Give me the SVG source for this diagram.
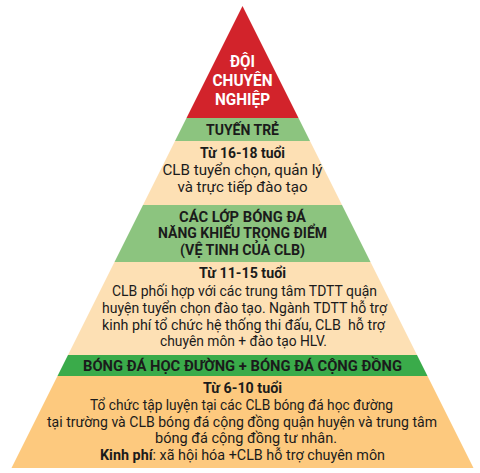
<svg xmlns="http://www.w3.org/2000/svg" width="480" height="473" viewBox="0 0 480 473">
<style>
text{font-family:Roboto,"Liberation Sans","DejaVu Sans",sans-serif;text-anchor:middle;fill:#1b1b1b}
.hd{font-weight:700;font-size:16px;fill:#ffffff}
.tt{font-weight:700;font-size:14px}
.ag{font-weight:700;font-size:14.5px}
.bd{font-size:14px}
.red{fill:#d2232b}
.lg{fill:#8cc47f}
.pc{fill:#fde0b4}
.dg{fill:#3aab4a}
.or{fill:#fdc97e}
</style>
<rect width="480" height="473" fill="#ffffff"/>
<g id="tier-doi-chuyen-nghiep">
<polygon class="red" points="242.5,6 298.5,118 186.5,118"/>
<text class="hd" x="242.5" y="67" textLength="25" lengthAdjust="spacingAndGlyphs">ĐỘI</text>
<text class="hd" x="242.5" y="86" textLength="60" lengthAdjust="spacingAndGlyphs">CHUYÊN</text>
<text class="hd" x="242.5" y="105" textLength="55" lengthAdjust="spacingAndGlyphs">NGHIỆP</text>
</g>
<g id="tier-tuyen-tre">
<polygon class="lg" points="186.5,118 298.5,118 310,141 175,141"/>
<text class="tt" x="242.5" y="135" textLength="73" lengthAdjust="spacingAndGlyphs">TUYẾN TRẺ</text>
</g>
<g id="tier-16-18">
<polygon class="pc" points="175,141 310,141 342,205 143,205"/>
<text class="ag" x="242.5" y="158" textLength="85" lengthAdjust="spacingAndGlyphs">Từ 16-18 tuổi</text>
<text class="bd" x="242.5" y="175" textLength="160" lengthAdjust="spacingAndGlyphs">CLB tuyển chọn, quản lý</text>
<text class="bd" x="242.5" y="192" textLength="130" lengthAdjust="spacingAndGlyphs">và trực tiếp đào tạo</text>
</g>
<g id="tier-lop-nang-khieu">
<polygon class="lg" points="143,205 342,205 370.5,262 114.5,262"/>
<text class="tt" x="242.5" y="222" textLength="127" lengthAdjust="spacingAndGlyphs">CÁC LỚP BÓNG ĐÁ</text>
<text class="tt" x="242.5" y="238" textLength="169" lengthAdjust="spacingAndGlyphs">NĂNG KHIẾU TRỌNG ĐIỂM</text>
<text class="tt" x="242.5" y="255" textLength="125" lengthAdjust="spacingAndGlyphs">(VỆ TINH CỦA CLB)</text>
</g>
<g id="tier-11-15">
<polygon class="pc" points="114.5,262 370.5,262 417,355 68,355"/>
<text class="ag" x="242.5" y="278" textLength="87" lengthAdjust="spacingAndGlyphs">Từ 11-15 tuổi</text>
<text class="bd" x="244.5" y="296" textLength="265" lengthAdjust="spacingAndGlyphs">CLB phối hợp với các trung tâm TDTT quận</text>
<text class="bd" x="244.5" y="313" textLength="285" lengthAdjust="spacingAndGlyphs">huyện tuyển chọn đào tạo. Ngành TDTT hỗ trợ</text>
<text class="bd" x="243.5" y="330" textLength="283" lengthAdjust="spacingAndGlyphs" xml:space="preserve">kinh phí tổ chức hệ thống thi đấu, CLB  hỗ trợ</text>
<text class="bd" x="243.5" y="346" textLength="167" lengthAdjust="spacingAndGlyphs">chuyên môn + đào tạo HLV.</text>
</g>
<g id="tier-hoc-duong-cong-dong">
<polygon class="dg" points="68,355 417,355 427.5,376 57.5,376"/>
<text class="tt" x="242.5" y="371" textLength="319" lengthAdjust="spacingAndGlyphs">BÓNG ĐÁ HỌC ĐƯỜNG + BÓNG ĐÁ CỘNG ĐỒNG</text>
</g>
<g id="tier-6-10">
<polygon class="or" points="57.5,376 427.5,376 473.5,468 11.5,468"/>
<text class="ag" x="242.5" y="393" textLength="79" lengthAdjust="spacingAndGlyphs">Từ 6-10 tuổi</text>
<text class="bd" x="241.5" y="410" textLength="303" lengthAdjust="spacingAndGlyphs">Tổ chức tập luyện tại các CLB bóng đá học đường</text>
<text class="bd" x="242" y="427" textLength="390" lengthAdjust="spacingAndGlyphs">tại trường và CLB bóng đá cộng đồng quận huyện và trung tâm</text>
<text class="bd" x="246" y="443" textLength="182" lengthAdjust="spacingAndGlyphs">bóng đá cộng đồng tư nhân.</text>
<text class="bd" x="242.5" y="460" textLength="285" lengthAdjust="spacingAndGlyphs"><tspan font-weight="700">Kinh phí</tspan>: xã hội hóa +CLB hỗ trợ chuyên môn</text>
</g>
<g id="connectors"/>
</svg>
